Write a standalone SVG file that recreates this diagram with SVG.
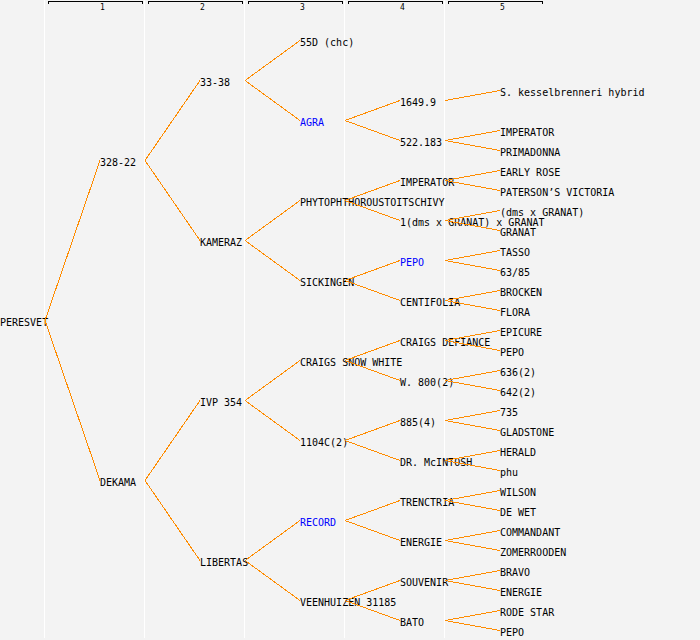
<svg xmlns="http://www.w3.org/2000/svg" width="700" height="640" viewBox="0 0 700 640">
<style>
text{font-family:"DejaVu Sans Mono","Liberation Mono",monospace;font-size:10px;fill:#000}
.blue{fill:#0000ff}
.hdr{font-size:8px;text-anchor:middle}
.sep{stroke:#fff;stroke-width:1;shape-rendering:crispEdges}
.br{fill:none;stroke:#000;stroke-width:1;shape-rendering:crispEdges}
#connectors path{fill:none;stroke:#ff8c00;stroke-width:1;shape-rendering:crispEdges}
</style>
<rect width="700" height="640" fill="#f3f3f3"/>
<g id="grid">
<line class="sep" x1="44.5" y1="0" x2="44.5" y2="638"/>
<line class="sep" x1="144.5" y1="0" x2="144.5" y2="638"/>
<line class="sep" x1="244.5" y1="0" x2="244.5" y2="638"/>
<line class="sep" x1="344.5" y1="0" x2="344.5" y2="638"/>
<line class="sep" x1="444.5" y1="0" x2="444.5" y2="638"/>
<path class="br" d="M48.5 4V1.5H142.5V4M148.5 4V1.5H242.5V4M248.5 4V1.5H342.5V4M348.5 4V1.5H442.5V4M448.5 4V1.5H542.5V4"/>
<text class="hdr" x="102.5" y="9.5">1</text>
<text class="hdr" x="202.5" y="9.5">2</text>
<text class="hdr" x="302.5" y="9.5">3</text>
<text class="hdr" x="402.5" y="9.5">4</text>
<text class="hdr" x="502.5" y="9.5">5</text>
</g>
<g id="nodes">
<g id="n-peresvet"><text x="0" y="325.5">PERESVET</text></g>
<g id="n-328-22"><text x="100" y="165.5">328-22</text></g>
<g id="n-dekama"><text x="100" y="485.5">DEKAMA</text></g>
<g id="n-33-38"><text x="200" y="85.5">33-38</text></g>
<g id="n-kameraz"><text x="200" y="245.5">KAMERAZ</text></g>
<g id="n-ivp354"><text x="200" y="405.5">IVP 354</text></g>
<g id="n-libertas"><text x="200" y="565.5">LIBERTAS</text></g>
<g id="n-55d"><text x="300" y="45.5">55D (chc)</text></g>
<g id="n-agra"><text class="blue" x="300" y="125.5">AGRA</text></g>
<g id="n-phyto"><text x="300" y="205.5">PHYTOPHTHOROUSTOITSCHIVY</text></g>
<g id="n-sickingen"><text x="300" y="285.5">SICKINGEN</text></g>
<g id="n-csw"><text x="300" y="365.5">CRAIGS SNOW WHITE</text></g>
<g id="n-1104c"><text x="300" y="445.5">1104C(2)</text></g>
<g id="n-record"><text class="blue" x="300" y="525.5">RECORD</text></g>
<g id="n-veenhuizen"><text x="300" y="605.5">VEENHUIZEN 31185</text></g>
<g id="n-1649"><text x="400" y="105.5">1649.9</text></g>
<g id="n-522"><text x="400" y="145.5">522.183</text></g>
<g id="n-imperator4"><text x="400" y="185.5">IMPERATOR</text></g>
<g id="n-1dms"><text x="400" y="225.5">1(dms x GRANAT) x GRANAT</text></g>
<g id="n-pepo4"><text class="blue" x="400" y="265.5">PEPO</text></g>
<g id="n-centifolia"><text x="400" y="305.5">CENTIFOLIA</text></g>
<g id="n-cdefiance"><text x="400" y="345.5">CRAIGS DEFIANCE</text></g>
<g id="n-w800"><text x="400" y="385.5">W. 800(2)</text></g>
<g id="n-885"><text x="400" y="425.5">885(4)</text></g>
<g id="n-drmcintosh"><text x="400" y="465.5">DR. McINTOSH</text></g>
<g id="n-trenctria"><text x="400" y="505.5">TRENCTRIA</text></g>
<g id="n-energie4"><text x="400" y="545.5">ENERGIE</text></g>
<g id="n-souvenir"><text x="400" y="585.5">SOUVENIR</text></g>
<g id="n-bato"><text x="400" y="625.5">BATO</text></g>
<g id="n-skessel"><text x="500" y="95.5">S. kesselbrenneri hybrid</text></g>
<g id="n-imperator5"><text x="500" y="135.5">IMPERATOR</text></g>
<g id="n-primadonna"><text x="500" y="155.5">PRIMADONNA</text></g>
<g id="n-earlyrose"><text x="500" y="175.5">EARLY ROSE</text></g>
<g id="n-paterson"><text x="500" y="195.5">PATERSON’S VICTORIA</text></g>
<g id="n-dms"><text x="500" y="215.5">(dms x GRANAT)</text></g>
<g id="n-granat"><text x="500" y="235.5">GRANAT</text></g>
<g id="n-tasso"><text x="500" y="255.5">TASSO</text></g>
<g id="n-6385"><text x="500" y="275.5">63/85</text></g>
<g id="n-brocken"><text x="500" y="295.5">BROCKEN</text></g>
<g id="n-flora"><text x="500" y="315.5">FLORA</text></g>
<g id="n-epicure"><text x="500" y="335.5">EPICURE</text></g>
<g id="n-pepo5a"><text x="500" y="355.5">PEPO</text></g>
<g id="n-636"><text x="500" y="375.5">636(2)</text></g>
<g id="n-642"><text x="500" y="395.5">642(2)</text></g>
<g id="n-735"><text x="500" y="415.5">735</text></g>
<g id="n-gladstone"><text x="500" y="435.5">GLADSTONE</text></g>
<g id="n-herald"><text x="500" y="455.5">HERALD</text></g>
<g id="n-phu"><text x="500" y="475.5">phu</text></g>
<g id="n-wilson"><text x="500" y="495.5">WILSON</text></g>
<g id="n-dewet"><text x="500" y="515.5">DE WET</text></g>
<g id="n-commandant"><text x="500" y="535.5">COMMANDANT</text></g>
<g id="n-zomerrooden"><text x="500" y="555.5">ZOMERROODEN</text></g>
<g id="n-bravo"><text x="500" y="575.5">BRAVO</text></g>
<g id="n-energie5"><text x="500" y="595.5">ENERGIE</text></g>
<g id="n-rodestar"><text x="500" y="615.5">RODE STAR</text></g>
<g id="n-pepo5b"><text x="500" y="635.5">PEPO</text></g>
</g>
<g id="connectors">
<path d="M45 320.5L100 160.5M45 320.5L100 480.5"/>
<path d="M145 160.5L200 80.5M145 160.5L200 240.5"/>
<path d="M145 480.5L200 400.5M145 480.5L200 560.5"/>
<path d="M245 80.5L300 40.5M245 80.5L300 120.5"/>
<path d="M245 240.5L300 200.5M245 240.5L300 280.5"/>
<path d="M245 400.5L300 360.5M245 400.5L300 440.5"/>
<path d="M245 560.5L300 520.5M245 560.5L300 600.5"/>
<path d="M345 120.5L400 100.5M345 120.5L400 140.5"/>
<path d="M345 200.5L400 180.5M345 200.5L400 220.5"/>
<path d="M345 280.5L400 260.5M345 280.5L400 300.5"/>
<path d="M345 360.5L400 340.5M345 360.5L400 380.5"/>
<path d="M345 440.5L400 420.5M345 440.5L400 460.5"/>
<path d="M345 520.5L400 500.5M345 520.5L400 540.5"/>
<path d="M345 600.5L400 580.5M345 600.5L400 620.5"/>
<path d="M445 100.5L500 90.5"/>
<path d="M445 140.5L500 130.5M445 140.5L500 150.5"/>
<path d="M445 180.5L500 170.5M445 180.5L500 190.5"/>
<path d="M445 220.5L500 210.5M445 220.5L500 230.5"/>
<path d="M445 260.5L500 250.5M445 260.5L500 270.5"/>
<path d="M445 300.5L500 290.5M445 300.5L500 310.5"/>
<path d="M445 340.5L500 330.5M445 340.5L500 350.5"/>
<path d="M445 380.5L500 370.5M445 380.5L500 390.5"/>
<path d="M445 420.5L500 410.5M445 420.5L500 430.5"/>
<path d="M445 460.5L500 450.5M445 460.5L500 470.5"/>
<path d="M445 500.5L500 490.5M445 500.5L500 510.5"/>
<path d="M445 540.5L500 530.5M445 540.5L500 550.5"/>
<path d="M445 580.5L500 570.5M445 580.5L500 590.5"/>
<path d="M445 620.5L500 610.5M445 620.5L500 630.5"/>
</g>
</svg>
